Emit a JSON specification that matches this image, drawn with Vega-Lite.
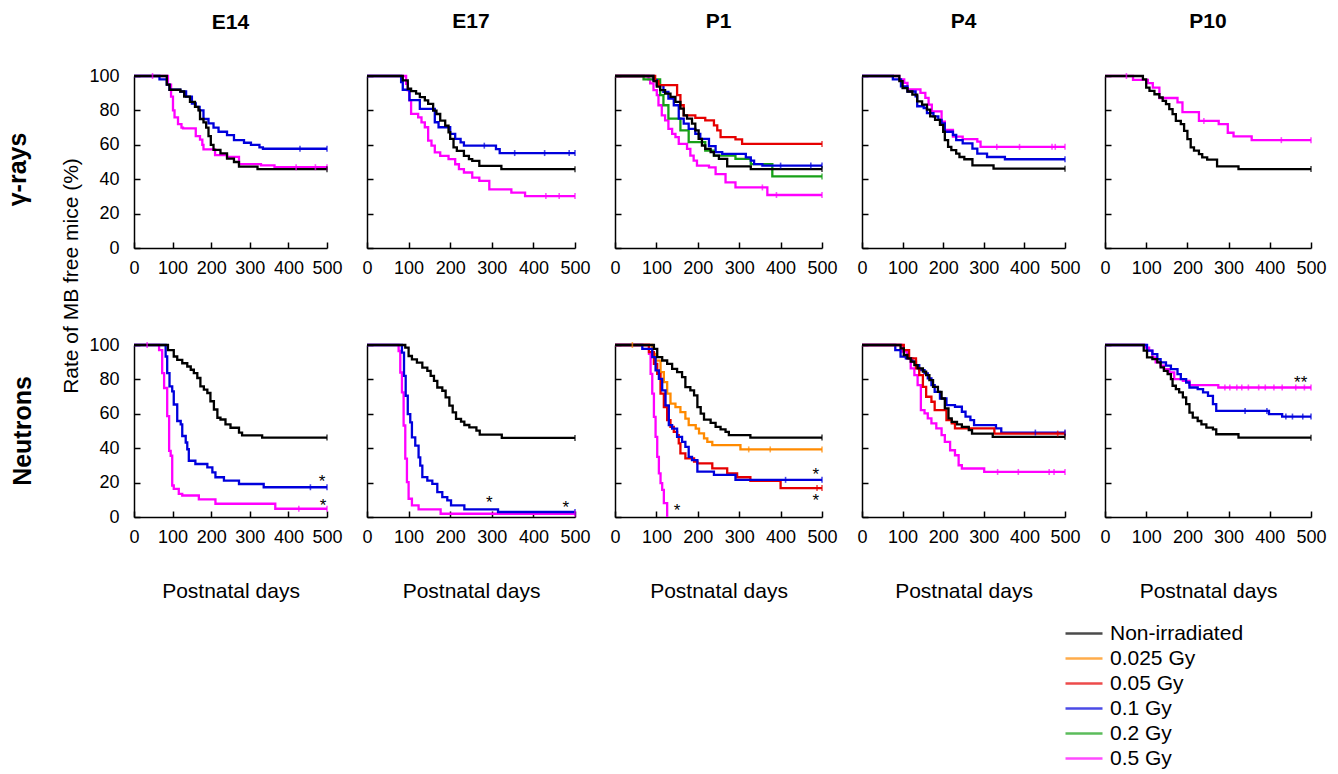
{
"$schema": "https://vega.github.io/schema/vega-lite/v6.json",
"padding": {"left": 5, "top": 11, "right": 5, "bottom": 0},
"datasets": {
"curves": [
{"panel":"gE14","dose":"0.5 Gy","day":0,"rate":100},{"panel":"gE14","dose":"0.5 Gy","day":88,"rate":95},{"panel":"gE14","dose":"0.5 Gy","day":96,"rate":88},{"panel":"gE14","dose":"0.5 Gy","day":101,"rate":80},{"panel":"gE14","dose":"0.5 Gy","day":105,"rate":76},{"panel":"gE14","dose":"0.5 Gy","day":114,"rate":72},{"panel":"gE14","dose":"0.5 Gy","day":123,"rate":70},{"panel":"gE14","dose":"0.5 Gy","day":127,"rate":69.5},{"panel":"gE14","dose":"0.5 Gy","day":160,"rate":65},{"panel":"gE14","dose":"0.5 Gy","day":171,"rate":63},{"panel":"gE14","dose":"0.5 Gy","day":177,"rate":60},{"panel":"gE14","dose":"0.5 Gy","day":180,"rate":57.3},{"panel":"gE14","dose":"0.5 Gy","day":210,"rate":54},{"panel":"gE14","dose":"0.5 Gy","day":241,"rate":53},{"panel":"gE14","dose":"0.5 Gy","day":272,"rate":48.8},{"panel":"gE14","dose":"0.5 Gy","day":329,"rate":48},{"panel":"gE14","dose":"0.5 Gy","day":364,"rate":47},{"panel":"gE14","dose":"0.5 Gy","day":500,"rate":47},
{"panel":"gE14","dose":"0.1 Gy","day":0,"rate":100},{"panel":"gE14","dose":"0.1 Gy","day":66,"rate":98},{"panel":"gE14","dose":"0.1 Gy","day":85,"rate":95},{"panel":"gE14","dose":"0.1 Gy","day":92,"rate":92},{"panel":"gE14","dose":"0.1 Gy","day":120,"rate":91},{"panel":"gE14","dose":"0.1 Gy","day":135,"rate":88},{"panel":"gE14","dose":"0.1 Gy","day":150,"rate":84},{"panel":"gE14","dose":"0.1 Gy","day":160,"rate":82},{"panel":"gE14","dose":"0.1 Gy","day":170,"rate":80},{"panel":"gE14","dose":"0.1 Gy","day":180,"rate":75},{"panel":"gE14","dose":"0.1 Gy","day":193,"rate":72.4},{"panel":"gE14","dose":"0.1 Gy","day":206,"rate":70},{"panel":"gE14","dose":"0.1 Gy","day":219,"rate":67.6},{"panel":"gE14","dose":"0.1 Gy","day":241,"rate":65.6},{"panel":"gE14","dose":"0.1 Gy","day":259,"rate":62.7},{"panel":"gE14","dose":"0.1 Gy","day":285,"rate":61.2},{"panel":"gE14","dose":"0.1 Gy","day":303,"rate":60},{"panel":"gE14","dose":"0.1 Gy","day":325,"rate":58.5},{"panel":"gE14","dose":"0.1 Gy","day":334,"rate":57.7},{"panel":"gE14","dose":"0.1 Gy","day":500,"rate":57.7},
{"panel":"gE14","dose":"Non-irradiated","day":0,"rate":100},{"panel":"gE14","dose":"Non-irradiated","day":85,"rate":95},{"panel":"gE14","dose":"Non-irradiated","day":92,"rate":92},{"panel":"gE14","dose":"Non-irradiated","day":120,"rate":91},{"panel":"gE14","dose":"Non-irradiated","day":130,"rate":88},{"panel":"gE14","dose":"Non-irradiated","day":145,"rate":85},{"panel":"gE14","dose":"Non-irradiated","day":158,"rate":82},{"panel":"gE14","dose":"Non-irradiated","day":167,"rate":80},{"panel":"gE14","dose":"Non-irradiated","day":171,"rate":75},{"panel":"gE14","dose":"Non-irradiated","day":180,"rate":73},{"panel":"gE14","dose":"Non-irradiated","day":187,"rate":70},{"panel":"gE14","dose":"Non-irradiated","day":193,"rate":65},{"panel":"gE14","dose":"Non-irradiated","day":199,"rate":60},{"panel":"gE14","dose":"Non-irradiated","day":206,"rate":57},{"panel":"gE14","dose":"Non-irradiated","day":224,"rate":55},{"panel":"gE14","dose":"Non-irradiated","day":241,"rate":52},{"panel":"gE14","dose":"Non-irradiated","day":259,"rate":50},{"panel":"gE14","dose":"Non-irradiated","day":272,"rate":47.3},{"panel":"gE14","dose":"Non-irradiated","day":320,"rate":45.8},{"panel":"gE14","dose":"Non-irradiated","day":500,"rate":45.8},

{"panel":"gE17","dose":"0.5 Gy","day":0,"rate":100},{"panel":"gE17","dose":"0.5 Gy","day":94,"rate":95.5},{"panel":"gE17","dose":"0.5 Gy","day":98,"rate":91.6},{"panel":"gE17","dose":"0.5 Gy","day":102,"rate":85.8},{"panel":"gE17","dose":"0.5 Gy","day":106,"rate":78},{"panel":"gE17","dose":"0.5 Gy","day":123,"rate":76},{"panel":"gE17","dose":"0.5 Gy","day":131,"rate":73},{"panel":"gE17","dose":"0.5 Gy","day":139,"rate":70.2},{"panel":"gE17","dose":"0.5 Gy","day":147,"rate":62.4},{"panel":"gE17","dose":"0.5 Gy","day":155,"rate":59.5},{"panel":"gE17","dose":"0.5 Gy","day":163,"rate":55.6},{"panel":"gE17","dose":"0.5 Gy","day":176,"rate":53.6},{"panel":"gE17","dose":"0.5 Gy","day":196,"rate":51.7},{"panel":"gE17","dose":"0.5 Gy","day":212,"rate":48.7},{"panel":"gE17","dose":"0.5 Gy","day":221,"rate":45.8},{"panel":"gE17","dose":"0.5 Gy","day":233,"rate":43.9},{"panel":"gE17","dose":"0.5 Gy","day":253,"rate":40.9},{"panel":"gE17","dose":"0.5 Gy","day":270,"rate":39},{"panel":"gE17","dose":"0.5 Gy","day":294,"rate":34.1},{"panel":"gE17","dose":"0.5 Gy","day":347,"rate":32.2},{"panel":"gE17","dose":"0.5 Gy","day":380,"rate":30.2},{"panel":"gE17","dose":"0.5 Gy","day":500,"rate":30.2},
{"panel":"gE17","dose":"0.1 Gy","day":0,"rate":100},{"panel":"gE17","dose":"0.1 Gy","day":82,"rate":96.5},{"panel":"gE17","dose":"0.1 Gy","day":86,"rate":92},{"panel":"gE17","dose":"0.1 Gy","day":102,"rate":86},{"panel":"gE17","dose":"0.1 Gy","day":127,"rate":80.9},{"panel":"gE17","dose":"0.1 Gy","day":163,"rate":73.1},{"panel":"gE17","dose":"0.1 Gy","day":172,"rate":70.2},{"panel":"gE17","dose":"0.1 Gy","day":200,"rate":66.3},{"panel":"gE17","dose":"0.1 Gy","day":212,"rate":63.4},{"panel":"gE17","dose":"0.1 Gy","day":225,"rate":61.4},{"panel":"gE17","dose":"0.1 Gy","day":233,"rate":59.5},{"panel":"gE17","dose":"0.1 Gy","day":310,"rate":57.5},{"panel":"gE17","dose":"0.1 Gy","day":319,"rate":55.2},{"panel":"gE17","dose":"0.1 Gy","day":500,"rate":55.2},
{"panel":"gE17","dose":"Non-irradiated","day":0,"rate":100},{"panel":"gE17","dose":"Non-irradiated","day":86,"rate":97.5},{"panel":"gE17","dose":"Non-irradiated","day":98,"rate":92.6},{"panel":"gE17","dose":"Non-irradiated","day":106,"rate":91.2},{"panel":"gE17","dose":"Non-irradiated","day":118,"rate":89.7},{"panel":"gE17","dose":"Non-irradiated","day":127,"rate":87.7},{"panel":"gE17","dose":"Non-irradiated","day":139,"rate":85.8},{"panel":"gE17","dose":"Non-irradiated","day":147,"rate":83.8},{"panel":"gE17","dose":"Non-irradiated","day":159,"rate":79.9},{"panel":"gE17","dose":"Non-irradiated","day":167,"rate":77.9},{"panel":"gE17","dose":"Non-irradiated","day":176,"rate":74},{"panel":"gE17","dose":"Non-irradiated","day":188,"rate":71.2},{"panel":"gE17","dose":"Non-irradiated","day":196,"rate":67.3},{"panel":"gE17","dose":"Non-irradiated","day":200,"rate":63.4},{"panel":"gE17","dose":"Non-irradiated","day":208,"rate":58.5},{"panel":"gE17","dose":"Non-irradiated","day":216,"rate":56.5},{"panel":"gE17","dose":"Non-irradiated","day":233,"rate":53.6},{"panel":"gE17","dose":"Non-irradiated","day":245,"rate":51.7},{"panel":"gE17","dose":"Non-irradiated","day":253,"rate":50.7},{"panel":"gE17","dose":"Non-irradiated","day":270,"rate":47.8},{"panel":"gE17","dose":"Non-irradiated","day":323,"rate":45.8},{"panel":"gE17","dose":"Non-irradiated","day":500,"rate":45.8},

{"panel":"gP1","dose":"0.5 Gy","day":0,"rate":100},{"panel":"gP1","dose":"0.5 Gy","day":81,"rate":98},{"panel":"gP1","dose":"0.5 Gy","day":85,"rate":95.7},{"panel":"gP1","dose":"0.5 Gy","day":93,"rate":91.8},{"panel":"gP1","dose":"0.5 Gy","day":101,"rate":88.9},{"panel":"gP1","dose":"0.5 Gy","day":105,"rate":83},{"panel":"gP1","dose":"0.5 Gy","day":113,"rate":77.1},{"panel":"gP1","dose":"0.5 Gy","day":121,"rate":74.2},{"panel":"gP1","dose":"0.5 Gy","day":129,"rate":69.3},{"panel":"gP1","dose":"0.5 Gy","day":138,"rate":66.4},{"panel":"gP1","dose":"0.5 Gy","day":146,"rate":64.5},{"panel":"gP1","dose":"0.5 Gy","day":154,"rate":60.5},{"panel":"gP1","dose":"0.5 Gy","day":174,"rate":57.6},{"panel":"gP1","dose":"0.5 Gy","day":182,"rate":53.7},{"panel":"gP1","dose":"0.5 Gy","day":190,"rate":50.8},{"panel":"gP1","dose":"0.5 Gy","day":198,"rate":47.9},{"panel":"gP1","dose":"0.5 Gy","day":227,"rate":46.9},{"panel":"gP1","dose":"0.5 Gy","day":243,"rate":43},{"panel":"gP1","dose":"0.5 Gy","day":267,"rate":38.1},{"panel":"gP1","dose":"0.5 Gy","day":291,"rate":35.2},{"panel":"gP1","dose":"0.5 Gy","day":368,"rate":30.8},{"panel":"gP1","dose":"0.5 Gy","day":500,"rate":30.8},
{"panel":"gP1","dose":"0.2 Gy","day":0,"rate":100},{"panel":"gP1","dose":"0.2 Gy","day":69,"rate":98},{"panel":"gP1","dose":"0.2 Gy","day":109,"rate":88.9},{"panel":"gP1","dose":"0.2 Gy","day":117,"rate":83},{"panel":"gP1","dose":"0.2 Gy","day":129,"rate":75.2},{"panel":"gP1","dose":"0.2 Gy","day":158,"rate":68.4},{"panel":"gP1","dose":"0.2 Gy","day":178,"rate":61.5},{"panel":"gP1","dose":"0.2 Gy","day":218,"rate":56.6},{"panel":"gP1","dose":"0.2 Gy","day":239,"rate":53.7},{"panel":"gP1","dose":"0.2 Gy","day":291,"rate":51.8},{"panel":"gP1","dose":"0.2 Gy","day":328,"rate":48.8},{"panel":"gP1","dose":"0.2 Gy","day":380,"rate":41.6},{"panel":"gP1","dose":"0.2 Gy","day":500,"rate":41.6},
{"panel":"gP1","dose":"0.1 Gy","day":0,"rate":100},{"panel":"gP1","dose":"0.1 Gy","day":93,"rate":97.6},{"panel":"gP1","dose":"0.1 Gy","day":101,"rate":94.7},{"panel":"gP1","dose":"0.1 Gy","day":117,"rate":90.8},{"panel":"gP1","dose":"0.1 Gy","day":129,"rate":86.9},{"panel":"gP1","dose":"0.1 Gy","day":142,"rate":83},{"panel":"gP1","dose":"0.1 Gy","day":154,"rate":75.2},{"panel":"gP1","dose":"0.1 Gy","day":166,"rate":72.3},{"panel":"gP1","dose":"0.1 Gy","day":178,"rate":69.3},{"panel":"gP1","dose":"0.1 Gy","day":194,"rate":66.4},{"panel":"gP1","dose":"0.1 Gy","day":206,"rate":63.5},{"panel":"gP1","dose":"0.1 Gy","day":227,"rate":59.2},{"panel":"gP1","dose":"0.1 Gy","day":243,"rate":55.7},{"panel":"gP1","dose":"0.1 Gy","day":259,"rate":54.7},{"panel":"gP1","dose":"0.1 Gy","day":316,"rate":52.7},{"panel":"gP1","dose":"0.1 Gy","day":328,"rate":50.8},{"panel":"gP1","dose":"0.1 Gy","day":336,"rate":48.8},{"panel":"gP1","dose":"0.1 Gy","day":356,"rate":47.9},{"panel":"gP1","dose":"0.1 Gy","day":500,"rate":47.9},
{"panel":"gP1","dose":"0.05 Gy","day":0,"rate":100},{"panel":"gP1","dose":"0.05 Gy","day":97,"rate":97},{"panel":"gP1","dose":"0.05 Gy","day":105,"rate":94.7},{"panel":"gP1","dose":"0.05 Gy","day":150,"rate":88.9},{"panel":"gP1","dose":"0.05 Gy","day":158,"rate":83},{"panel":"gP1","dose":"0.05 Gy","day":166,"rate":77.1},{"panel":"gP1","dose":"0.05 Gy","day":194,"rate":75.6},{"panel":"gP1","dose":"0.05 Gy","day":218,"rate":74.2},{"panel":"gP1","dose":"0.05 Gy","day":239,"rate":71.3},{"panel":"gP1","dose":"0.05 Gy","day":247,"rate":68.4},{"panel":"gP1","dose":"0.05 Gy","day":255,"rate":64.5},{"panel":"gP1","dose":"0.05 Gy","day":291,"rate":63.1},{"panel":"gP1","dose":"0.05 Gy","day":307,"rate":60.5},{"panel":"gP1","dose":"0.05 Gy","day":500,"rate":60.5},
{"panel":"gP1","dose":"Non-irradiated","day":0,"rate":100},{"panel":"gP1","dose":"Non-irradiated","day":93,"rate":97},{"panel":"gP1","dose":"Non-irradiated","day":101,"rate":93.8},{"panel":"gP1","dose":"Non-irradiated","day":109,"rate":91.8},{"panel":"gP1","dose":"Non-irradiated","day":121,"rate":89.8},{"panel":"gP1","dose":"Non-irradiated","day":134,"rate":87.9},{"panel":"gP1","dose":"Non-irradiated","day":146,"rate":85},{"panel":"gP1","dose":"Non-irradiated","day":158,"rate":81},{"panel":"gP1","dose":"Non-irradiated","day":166,"rate":77.1},{"panel":"gP1","dose":"Non-irradiated","day":174,"rate":75.2},{"panel":"gP1","dose":"Non-irradiated","day":186,"rate":72.3},{"panel":"gP1","dose":"Non-irradiated","day":194,"rate":68.4},{"panel":"gP1","dose":"Non-irradiated","day":202,"rate":63.5},{"panel":"gP1","dose":"Non-irradiated","day":210,"rate":59.6},{"panel":"gP1","dose":"Non-irradiated","day":218,"rate":57.6},{"panel":"gP1","dose":"Non-irradiated","day":231,"rate":55.7},{"panel":"gP1","dose":"Non-irradiated","day":239,"rate":53.7},{"panel":"gP1","dose":"Non-irradiated","day":251,"rate":51.8},{"panel":"gP1","dose":"Non-irradiated","day":271,"rate":47.5},{"panel":"gP1","dose":"Non-irradiated","day":328,"rate":45.9},{"panel":"gP1","dose":"Non-irradiated","day":500,"rate":45.9},

{"panel":"gP4","dose":"0.5 Gy","day":0,"rate":100},{"panel":"gP4","dose":"0.5 Gy","day":92,"rate":98},{"panel":"gP4","dose":"0.5 Gy","day":104,"rate":96},{"panel":"gP4","dose":"0.5 Gy","day":112,"rate":92.2},{"panel":"gP4","dose":"0.5 Gy","day":144,"rate":90.2},{"panel":"gP4","dose":"0.5 Gy","day":156,"rate":87.3},{"panel":"gP4","dose":"0.5 Gy","day":164,"rate":83.3},{"panel":"gP4","dose":"0.5 Gy","day":172,"rate":79.4},{"panel":"gP4","dose":"0.5 Gy","day":196,"rate":73.5},{"panel":"gP4","dose":"0.5 Gy","day":204,"rate":68.6},{"panel":"gP4","dose":"0.5 Gy","day":224,"rate":64.7},{"panel":"gP4","dose":"0.5 Gy","day":248,"rate":63.3},{"panel":"gP4","dose":"0.5 Gy","day":284,"rate":61.8},{"panel":"gP4","dose":"0.5 Gy","day":292,"rate":58.8},{"panel":"gP4","dose":"0.5 Gy","day":500,"rate":58.8},
{"panel":"gP4","dose":"0.1 Gy","day":0,"rate":100},{"panel":"gP4","dose":"0.1 Gy","day":76,"rate":98},{"panel":"gP4","dose":"0.1 Gy","day":96,"rate":94},{"panel":"gP4","dose":"0.1 Gy","day":112,"rate":91},{"panel":"gP4","dose":"0.1 Gy","day":132,"rate":88.2},{"panel":"gP4","dose":"0.1 Gy","day":136,"rate":82.4},{"panel":"gP4","dose":"0.1 Gy","day":152,"rate":81.4},{"panel":"gP4","dose":"0.1 Gy","day":160,"rate":78.4},{"panel":"gP4","dose":"0.1 Gy","day":176,"rate":76.5},{"panel":"gP4","dose":"0.1 Gy","day":188,"rate":74.5},{"panel":"gP4","dose":"0.1 Gy","day":196,"rate":72.5},{"panel":"gP4","dose":"0.1 Gy","day":204,"rate":67.6},{"panel":"gP4","dose":"0.1 Gy","day":224,"rate":65.7},{"panel":"gP4","dose":"0.1 Gy","day":232,"rate":62.7},{"panel":"gP4","dose":"0.1 Gy","day":248,"rate":60.8},{"panel":"gP4","dose":"0.1 Gy","day":272,"rate":57.8},{"panel":"gP4","dose":"0.1 Gy","day":284,"rate":54.9},{"panel":"gP4","dose":"0.1 Gy","day":308,"rate":52.9},{"panel":"gP4","dose":"0.1 Gy","day":352,"rate":51.6},{"panel":"gP4","dose":"0.1 Gy","day":500,"rate":51.6},
{"panel":"gP4","dose":"Non-irradiated","day":0,"rate":100},{"panel":"gP4","dose":"Non-irradiated","day":92,"rate":97},{"panel":"gP4","dose":"Non-irradiated","day":100,"rate":93},{"panel":"gP4","dose":"Non-irradiated","day":112,"rate":91},{"panel":"gP4","dose":"Non-irradiated","day":124,"rate":89.2},{"panel":"gP4","dose":"Non-irradiated","day":136,"rate":85.3},{"panel":"gP4","dose":"Non-irradiated","day":148,"rate":83.3},{"panel":"gP4","dose":"Non-irradiated","day":160,"rate":80.4},{"panel":"gP4","dose":"Non-irradiated","day":168,"rate":76.5},{"panel":"gP4","dose":"Non-irradiated","day":180,"rate":74.5},{"panel":"gP4","dose":"Non-irradiated","day":192,"rate":71.6},{"panel":"gP4","dose":"Non-irradiated","day":200,"rate":67.6},{"panel":"gP4","dose":"Non-irradiated","day":204,"rate":62.7},{"panel":"gP4","dose":"Non-irradiated","day":212,"rate":58.8},{"panel":"gP4","dose":"Non-irradiated","day":220,"rate":56.9},{"panel":"gP4","dose":"Non-irradiated","day":232,"rate":54.9},{"panel":"gP4","dose":"Non-irradiated","day":240,"rate":52.9},{"panel":"gP4","dose":"Non-irradiated","day":252,"rate":51.6},{"panel":"gP4","dose":"Non-irradiated","day":272,"rate":48},{"panel":"gP4","dose":"Non-irradiated","day":324,"rate":46.1},{"panel":"gP4","dose":"Non-irradiated","day":500,"rate":46.1},

{"panel":"gP10","dose":"0.5 Gy","day":0,"rate":100},{"panel":"gP10","dose":"0.5 Gy","day":68,"rate":97.7},{"panel":"gP10","dose":"0.5 Gy","day":104,"rate":95.8},{"panel":"gP10","dose":"0.5 Gy","day":116,"rate":93.2},{"panel":"gP10","dose":"0.5 Gy","day":132,"rate":87.2},{"panel":"gP10","dose":"0.5 Gy","day":176,"rate":84.7},{"panel":"gP10","dose":"0.5 Gy","day":188,"rate":79},{"panel":"gP10","dose":"0.5 Gy","day":228,"rate":73.9},{"panel":"gP10","dose":"0.5 Gy","day":276,"rate":72},{"panel":"gP10","dose":"0.5 Gy","day":298,"rate":67},{"panel":"gP10","dose":"0.5 Gy","day":312,"rate":64.9},{"panel":"gP10","dose":"0.5 Gy","day":356,"rate":62.7},{"panel":"gP10","dose":"0.5 Gy","day":500,"rate":62.7},
{"panel":"gP10","dose":"Non-irradiated","day":0,"rate":100},{"panel":"gP10","dose":"Non-irradiated","day":92,"rate":98},{"panel":"gP10","dose":"Non-irradiated","day":100,"rate":93.2},{"panel":"gP10","dose":"Non-irradiated","day":108,"rate":91.3},{"panel":"gP10","dose":"Non-irradiated","day":120,"rate":89.4},{"panel":"gP10","dose":"Non-irradiated","day":132,"rate":87.5},{"panel":"gP10","dose":"Non-irradiated","day":140,"rate":85.5},{"panel":"gP10","dose":"Non-irradiated","day":148,"rate":83.6},{"panel":"gP10","dose":"Non-irradiated","day":156,"rate":80.7},{"panel":"gP10","dose":"Non-irradiated","day":164,"rate":77.8},{"panel":"gP10","dose":"Non-irradiated","day":172,"rate":73.9},{"panel":"gP10","dose":"Non-irradiated","day":184,"rate":72},{"panel":"gP10","dose":"Non-irradiated","day":192,"rate":68.1},{"panel":"gP10","dose":"Non-irradiated","day":200,"rate":63.3},{"panel":"gP10","dose":"Non-irradiated","day":208,"rate":58.5},{"panel":"gP10","dose":"Non-irradiated","day":216,"rate":56.6},{"panel":"gP10","dose":"Non-irradiated","day":228,"rate":54.6},{"panel":"gP10","dose":"Non-irradiated","day":236,"rate":52.7},{"panel":"gP10","dose":"Non-irradiated","day":248,"rate":51.4},{"panel":"gP10","dose":"Non-irradiated","day":272,"rate":47.5},{"panel":"gP10","dose":"Non-irradiated","day":324,"rate":45.9},{"panel":"gP10","dose":"Non-irradiated","day":500,"rate":45.9},

{"panel":"nE14","dose":"0.5 Gy","day":0,"rate":100},{"panel":"nE14","dose":"0.5 Gy","day":65,"rate":97},{"panel":"nE14","dose":"0.5 Gy","day":73,"rate":83.7},{"panel":"nE14","dose":"0.5 Gy","day":78,"rate":75},{"panel":"nE14","dose":"0.5 Gy","day":86,"rate":58.7},{"panel":"nE14","dose":"0.5 Gy","day":91,"rate":38.5},{"panel":"nE14","dose":"0.5 Gy","day":95,"rate":35.6},{"panel":"nE14","dose":"0.5 Gy","day":99,"rate":18.3},{"panel":"nE14","dose":"0.5 Gy","day":103,"rate":16.3},{"panel":"nE14","dose":"0.5 Gy","day":116,"rate":13.5},{"panel":"nE14","dose":"0.5 Gy","day":125,"rate":12.5},{"panel":"nE14","dose":"0.5 Gy","day":168,"rate":10.2},{"panel":"nE14","dose":"0.5 Gy","day":211,"rate":7.7},{"panel":"nE14","dose":"0.5 Gy","day":366,"rate":4.8},{"panel":"nE14","dose":"0.5 Gy","day":500,"rate":4.8},
{"panel":"nE14","dose":"0.1 Gy","day":0,"rate":100},{"panel":"nE14","dose":"0.1 Gy","day":82,"rate":93.3},{"panel":"nE14","dose":"0.1 Gy","day":86,"rate":83.7},{"panel":"nE14","dose":"0.1 Gy","day":92,"rate":76},{"panel":"nE14","dose":"0.1 Gy","day":99,"rate":73},{"panel":"nE14","dose":"0.1 Gy","day":103,"rate":65.4},{"panel":"nE14","dose":"0.1 Gy","day":112,"rate":55.8},{"panel":"nE14","dose":"0.1 Gy","day":121,"rate":53.8},{"panel":"nE14","dose":"0.1 Gy","day":125,"rate":47.1},{"panel":"nE14","dose":"0.1 Gy","day":134,"rate":43.3},{"panel":"nE14","dose":"0.1 Gy","day":138,"rate":39.4},{"panel":"nE14","dose":"0.1 Gy","day":142,"rate":32.7},{"panel":"nE14","dose":"0.1 Gy","day":159,"rate":30.8},{"panel":"nE14","dose":"0.1 Gy","day":190,"rate":28.8},{"panel":"nE14","dose":"0.1 Gy","day":203,"rate":26},{"panel":"nE14","dose":"0.1 Gy","day":211,"rate":23.1},{"panel":"nE14","dose":"0.1 Gy","day":233,"rate":21.2},{"panel":"nE14","dose":"0.1 Gy","day":272,"rate":19.2},{"panel":"nE14","dose":"0.1 Gy","day":336,"rate":17.3},{"panel":"nE14","dose":"0.1 Gy","day":500,"rate":17.3},
{"panel":"nE14","dose":"Non-irradiated","day":0,"rate":100},{"panel":"nE14","dose":"Non-irradiated","day":88,"rate":97},{"panel":"nE14","dose":"Non-irradiated","day":103,"rate":93.3},{"panel":"nE14","dose":"Non-irradiated","day":112,"rate":91.3},{"panel":"nE14","dose":"Non-irradiated","day":125,"rate":89.4},{"panel":"nE14","dose":"Non-irradiated","day":138,"rate":87.5},{"panel":"nE14","dose":"Non-irradiated","day":147,"rate":85.6},{"panel":"nE14","dose":"Non-irradiated","day":155,"rate":83.7},{"panel":"nE14","dose":"Non-irradiated","day":164,"rate":80.8},{"panel":"nE14","dose":"Non-irradiated","day":172,"rate":76},{"panel":"nE14","dose":"Non-irradiated","day":181,"rate":74},{"panel":"nE14","dose":"Non-irradiated","day":190,"rate":72.1},{"panel":"nE14","dose":"Non-irradiated","day":198,"rate":67.3},{"panel":"nE14","dose":"Non-irradiated","day":207,"rate":62.5},{"panel":"nE14","dose":"Non-irradiated","day":216,"rate":57.7},{"panel":"nE14","dose":"Non-irradiated","day":224,"rate":56.7},{"panel":"nE14","dose":"Non-irradiated","day":237,"rate":53.8},{"panel":"nE14","dose":"Non-irradiated","day":250,"rate":51.9},{"panel":"nE14","dose":"Non-irradiated","day":272,"rate":49},{"panel":"nE14","dose":"Non-irradiated","day":280,"rate":47.5},{"panel":"nE14","dose":"Non-irradiated","day":332,"rate":46.2},{"panel":"nE14","dose":"Non-irradiated","day":500,"rate":46.2},

{"panel":"nE17","dose":"0.5 Gy","day":0,"rate":100},{"panel":"nE17","dose":"0.5 Gy","day":76,"rate":96.5},{"panel":"nE17","dose":"0.5 Gy","day":80,"rate":84},{"panel":"nE17","dose":"0.5 Gy","day":84,"rate":72.5},{"panel":"nE17","dose":"0.5 Gy","day":88,"rate":53.2},{"panel":"nE17","dose":"0.5 Gy","day":92,"rate":33.9},{"panel":"nE17","dose":"0.5 Gy","day":96,"rate":20.3},{"panel":"nE17","dose":"0.5 Gy","day":100,"rate":10.6},{"panel":"nE17","dose":"0.5 Gy","day":108,"rate":6.8},{"panel":"nE17","dose":"0.5 Gy","day":124,"rate":4.4},{"panel":"nE17","dose":"0.5 Gy","day":177,"rate":1.9},{"panel":"nE17","dose":"0.5 Gy","day":500,"rate":1.9},
{"panel":"nE17","dose":"0.1 Gy","day":0,"rate":100},{"panel":"nE17","dose":"0.1 Gy","day":84,"rate":95.6},{"panel":"nE17","dose":"0.1 Gy","day":89,"rate":82},{"panel":"nE17","dose":"0.1 Gy","day":93,"rate":70.5},{"panel":"nE17","dose":"0.1 Gy","day":98,"rate":59.8},{"panel":"nE17","dose":"0.1 Gy","day":104,"rate":55},{"panel":"nE17","dose":"0.1 Gy","day":108,"rate":46.3},{"panel":"nE17","dose":"0.1 Gy","day":116,"rate":41.5},{"panel":"nE17","dose":"0.1 Gy","day":124,"rate":34.7},{"panel":"nE17","dose":"0.1 Gy","day":128,"rate":29.9},{"panel":"nE17","dose":"0.1 Gy","day":133,"rate":23.2},{"panel":"nE17","dose":"0.1 Gy","day":145,"rate":21.2},{"panel":"nE17","dose":"0.1 Gy","day":157,"rate":19.3},{"panel":"nE17","dose":"0.1 Gy","day":169,"rate":14.5},{"panel":"nE17","dose":"0.1 Gy","day":181,"rate":11.6},{"panel":"nE17","dose":"0.1 Gy","day":193,"rate":9.7},{"panel":"nE17","dose":"0.1 Gy","day":202,"rate":6.8},{"panel":"nE17","dose":"0.1 Gy","day":234,"rate":4.4},{"panel":"nE17","dose":"0.1 Gy","day":315,"rate":2.9},{"panel":"nE17","dose":"0.1 Gy","day":500,"rate":2.9},
{"panel":"nE17","dose":"Non-irradiated","day":0,"rate":100},{"panel":"nE17","dose":"Non-irradiated","day":92,"rate":98.5},{"panel":"nE17","dose":"Non-irradiated","day":100,"rate":93.6},{"panel":"nE17","dose":"Non-irradiated","day":108,"rate":91.7},{"panel":"nE17","dose":"Non-irradiated","day":120,"rate":89.8},{"panel":"nE17","dose":"Non-irradiated","day":133,"rate":86.9},{"panel":"nE17","dose":"Non-irradiated","day":145,"rate":84.9},{"panel":"nE17","dose":"Non-irradiated","day":153,"rate":82},{"panel":"nE17","dose":"Non-irradiated","day":161,"rate":79.2},{"panel":"nE17","dose":"Non-irradiated","day":169,"rate":75.3},{"panel":"nE17","dose":"Non-irradiated","day":181,"rate":73.4},{"panel":"nE17","dose":"Non-irradiated","day":189,"rate":69.5},{"panel":"nE17","dose":"Non-irradiated","day":198,"rate":64.7},{"panel":"nE17","dose":"Non-irradiated","day":206,"rate":60.8},{"panel":"nE17","dose":"Non-irradiated","day":214,"rate":57},{"panel":"nE17","dose":"Non-irradiated","day":226,"rate":55.4},{"panel":"nE17","dose":"Non-irradiated","day":234,"rate":53.5},{"panel":"nE17","dose":"Non-irradiated","day":246,"rate":52.1},{"panel":"nE17","dose":"Non-irradiated","day":263,"rate":50.2},{"panel":"nE17","dose":"Non-irradiated","day":271,"rate":47.9},{"panel":"nE17","dose":"Non-irradiated","day":324,"rate":46},{"panel":"nE17","dose":"Non-irradiated","day":500,"rate":46},

{"panel":"nP1","dose":"0.5 Gy","day":0,"rate":100},{"panel":"nP1","dose":"0.5 Gy","day":82,"rate":94.8},{"panel":"nP1","dose":"0.5 Gy","day":86,"rate":83.2},{"panel":"nP1","dose":"0.5 Gy","day":90,"rate":71.7},{"panel":"nP1","dose":"0.5 Gy","day":94,"rate":58.2},{"panel":"nP1","dose":"0.5 Gy","day":98,"rate":46.6},{"panel":"nP1","dose":"0.5 Gy","day":102,"rate":35},{"panel":"nP1","dose":"0.5 Gy","day":106,"rate":25.4},{"panel":"nP1","dose":"0.5 Gy","day":110,"rate":19.7},{"panel":"nP1","dose":"0.5 Gy","day":114,"rate":15.8},{"panel":"nP1","dose":"0.5 Gy","day":118,"rate":8.1},{"panel":"nP1","dose":"0.5 Gy","day":126,"rate":0},
{"panel":"nP1","dose":"0.025 Gy","day":0,"rate":100},{"panel":"nP1","dose":"0.025 Gy","day":90,"rate":94.8},{"panel":"nP1","dose":"0.025 Gy","day":98,"rate":90.9},{"panel":"nP1","dose":"0.025 Gy","day":110,"rate":84.2},{"panel":"nP1","dose":"0.025 Gy","day":118,"rate":78.4},{"panel":"nP1","dose":"0.025 Gy","day":126,"rate":71.7},{"panel":"nP1","dose":"0.025 Gy","day":134,"rate":65.9},{"panel":"nP1","dose":"0.025 Gy","day":146,"rate":63.9},{"panel":"nP1","dose":"0.025 Gy","day":158,"rate":61},{"panel":"nP1","dose":"0.025 Gy","day":170,"rate":57.2},{"panel":"nP1","dose":"0.025 Gy","day":178,"rate":53.4},{"panel":"nP1","dose":"0.025 Gy","day":195,"rate":51.4},{"panel":"nP1","dose":"0.025 Gy","day":203,"rate":48.6},{"panel":"nP1","dose":"0.025 Gy","day":215,"rate":45.7},{"panel":"nP1","dose":"0.025 Gy","day":223,"rate":43.7},{"panel":"nP1","dose":"0.025 Gy","day":235,"rate":41.8},{"panel":"nP1","dose":"0.025 Gy","day":303,"rate":39.3},{"panel":"nP1","dose":"0.025 Gy","day":500,"rate":39.3},
{"panel":"nP1","dose":"0.05 Gy","day":0,"rate":100},{"panel":"nP1","dose":"0.05 Gy","day":82,"rate":95.8},{"panel":"nP1","dose":"0.05 Gy","day":94,"rate":89},{"panel":"nP1","dose":"0.05 Gy","day":102,"rate":83.2},{"panel":"nP1","dose":"0.05 Gy","day":110,"rate":71.7},{"panel":"nP1","dose":"0.05 Gy","day":118,"rate":63.9},{"panel":"nP1","dose":"0.05 Gy","day":126,"rate":56.3},{"panel":"nP1","dose":"0.05 Gy","day":134,"rate":52.4},{"panel":"nP1","dose":"0.05 Gy","day":142,"rate":49.5},{"panel":"nP1","dose":"0.05 Gy","day":150,"rate":47.6},{"panel":"nP1","dose":"0.05 Gy","day":154,"rate":42.8},{"panel":"nP1","dose":"0.05 Gy","day":158,"rate":37},{"panel":"nP1","dose":"0.05 Gy","day":170,"rate":34.1},{"panel":"nP1","dose":"0.05 Gy","day":191,"rate":32.2},{"panel":"nP1","dose":"0.05 Gy","day":199,"rate":31.2},{"panel":"nP1","dose":"0.05 Gy","day":235,"rate":28.3},{"panel":"nP1","dose":"0.05 Gy","day":271,"rate":25.4},{"panel":"nP1","dose":"0.05 Gy","day":295,"rate":23.1},{"panel":"nP1","dose":"0.05 Gy","day":327,"rate":21},{"panel":"nP1","dose":"0.05 Gy","day":400,"rate":16.8},{"panel":"nP1","dose":"0.05 Gy","day":500,"rate":16.8},
{"panel":"nP1","dose":"0.1 Gy","day":0,"rate":100},{"panel":"nP1","dose":"0.1 Gy","day":66,"rate":97.7},{"panel":"nP1","dose":"0.1 Gy","day":90,"rate":92.9},{"panel":"nP1","dose":"0.1 Gy","day":98,"rate":85.2},{"panel":"nP1","dose":"0.1 Gy","day":106,"rate":80.3},{"panel":"nP1","dose":"0.1 Gy","day":114,"rate":73.6},{"panel":"nP1","dose":"0.1 Gy","day":122,"rate":64.9},{"panel":"nP1","dose":"0.1 Gy","day":130,"rate":53.4},{"panel":"nP1","dose":"0.1 Gy","day":138,"rate":51.4},{"panel":"nP1","dose":"0.1 Gy","day":150,"rate":46.6},{"panel":"nP1","dose":"0.1 Gy","day":162,"rate":43.7},{"panel":"nP1","dose":"0.1 Gy","day":170,"rate":40.8},{"panel":"nP1","dose":"0.1 Gy","day":178,"rate":35},{"panel":"nP1","dose":"0.1 Gy","day":186,"rate":33.1},{"panel":"nP1","dose":"0.1 Gy","day":199,"rate":26.4},{"panel":"nP1","dose":"0.1 Gy","day":239,"rate":24.5},{"panel":"nP1","dose":"0.1 Gy","day":291,"rate":21.6},{"panel":"nP1","dose":"0.1 Gy","day":500,"rate":21.6},
{"panel":"nP1","dose":"Non-irradiated","day":0,"rate":100},{"panel":"nP1","dose":"Non-irradiated","day":94,"rate":97.7},{"panel":"nP1","dose":"Non-irradiated","day":102,"rate":92.9},{"panel":"nP1","dose":"Non-irradiated","day":114,"rate":91},{"panel":"nP1","dose":"Non-irradiated","day":126,"rate":89},{"panel":"nP1","dose":"Non-irradiated","day":138,"rate":86.1},{"panel":"nP1","dose":"Non-irradiated","day":150,"rate":84.2},{"panel":"nP1","dose":"Non-irradiated","day":162,"rate":81.3},{"panel":"nP1","dose":"Non-irradiated","day":170,"rate":75.5},{"panel":"nP1","dose":"Non-irradiated","day":182,"rate":73.6},{"panel":"nP1","dose":"Non-irradiated","day":191,"rate":70.7},{"panel":"nP1","dose":"Non-irradiated","day":199,"rate":63.9},{"panel":"nP1","dose":"Non-irradiated","day":207,"rate":60.1},{"panel":"nP1","dose":"Non-irradiated","day":215,"rate":56.6},{"panel":"nP1","dose":"Non-irradiated","day":231,"rate":54.7},{"panel":"nP1","dose":"Non-irradiated","day":243,"rate":52.4},{"panel":"nP1","dose":"Non-irradiated","day":255,"rate":50.9},{"panel":"nP1","dose":"Non-irradiated","day":267,"rate":49.5},{"panel":"nP1","dose":"Non-irradiated","day":275,"rate":47.6},{"panel":"nP1","dose":"Non-irradiated","day":327,"rate":46.2},{"panel":"nP1","dose":"Non-irradiated","day":500,"rate":46.2},

{"panel":"nP4","dose":"0.5 Gy","day":0,"rate":100},{"panel":"nP4","dose":"0.5 Gy","day":99,"rate":96.1},{"panel":"nP4","dose":"0.5 Gy","day":112,"rate":92.2},{"panel":"nP4","dose":"0.5 Gy","day":120,"rate":86.4},{"panel":"nP4","dose":"0.5 Gy","day":129,"rate":82.5},{"panel":"nP4","dose":"0.5 Gy","day":137,"rate":76.7},{"panel":"nP4","dose":"0.5 Gy","day":145,"rate":62.1},{"panel":"nP4","dose":"0.5 Gy","day":154,"rate":60.2},{"panel":"nP4","dose":"0.5 Gy","day":162,"rate":57.3},{"panel":"nP4","dose":"0.5 Gy","day":171,"rate":54.4},{"panel":"nP4","dose":"0.5 Gy","day":183,"rate":51.5},{"panel":"nP4","dose":"0.5 Gy","day":196,"rate":47.6},{"panel":"nP4","dose":"0.5 Gy","day":204,"rate":43.7},{"panel":"nP4","dose":"0.5 Gy","day":217,"rate":38.8},{"panel":"nP4","dose":"0.5 Gy","day":229,"rate":35.9},{"panel":"nP4","dose":"0.5 Gy","day":238,"rate":30.1},{"panel":"nP4","dose":"0.5 Gy","day":246,"rate":28.2},{"panel":"nP4","dose":"0.5 Gy","day":301,"rate":26.2},{"panel":"nP4","dose":"0.5 Gy","day":500,"rate":26.2},
{"panel":"nP4","dose":"0.1 Gy","day":0,"rate":100},{"panel":"nP4","dose":"0.1 Gy","day":82,"rate":97},{"panel":"nP4","dose":"0.1 Gy","day":95,"rate":93.2},{"panel":"nP4","dose":"0.1 Gy","day":108,"rate":92.2},{"panel":"nP4","dose":"0.1 Gy","day":124,"rate":90.3},{"panel":"nP4","dose":"0.1 Gy","day":133,"rate":88.3},{"panel":"nP4","dose":"0.1 Gy","day":141,"rate":85.4},{"panel":"nP4","dose":"0.1 Gy","day":154,"rate":83.5},{"panel":"nP4","dose":"0.1 Gy","day":162,"rate":80.6},{"panel":"nP4","dose":"0.1 Gy","day":171,"rate":76.7},{"panel":"nP4","dose":"0.1 Gy","day":179,"rate":72.8},{"panel":"nP4","dose":"0.1 Gy","day":192,"rate":68.9},{"panel":"nP4","dose":"0.1 Gy","day":208,"rate":65},{"panel":"nP4","dose":"0.1 Gy","day":229,"rate":64.1},{"panel":"nP4","dose":"0.1 Gy","day":246,"rate":61.2},{"panel":"nP4","dose":"0.1 Gy","day":255,"rate":58.3},{"panel":"nP4","dose":"0.1 Gy","day":267,"rate":56.3},{"panel":"nP4","dose":"0.1 Gy","day":276,"rate":53.4},{"panel":"nP4","dose":"0.1 Gy","day":330,"rate":51.5},{"panel":"nP4","dose":"0.1 Gy","day":343,"rate":49.1},{"panel":"nP4","dose":"0.1 Gy","day":500,"rate":49.1},
{"panel":"nP4","dose":"0.05 Gy","day":0,"rate":100},{"panel":"nP4","dose":"0.05 Gy","day":103,"rate":97},{"panel":"nP4","dose":"0.05 Gy","day":116,"rate":92.2},{"panel":"nP4","dose":"0.05 Gy","day":133,"rate":86.4},{"panel":"nP4","dose":"0.05 Gy","day":141,"rate":82.5},{"panel":"nP4","dose":"0.05 Gy","day":150,"rate":75.7},{"panel":"nP4","dose":"0.05 Gy","day":158,"rate":69.9},{"panel":"nP4","dose":"0.05 Gy","day":171,"rate":67},{"panel":"nP4","dose":"0.05 Gy","day":179,"rate":62.1},{"panel":"nP4","dose":"0.05 Gy","day":208,"rate":56.3},{"panel":"nP4","dose":"0.05 Gy","day":221,"rate":54.4},{"panel":"nP4","dose":"0.05 Gy","day":229,"rate":51.5},{"panel":"nP4","dose":"0.05 Gy","day":326,"rate":48.5},{"panel":"nP4","dose":"0.05 Gy","day":500,"rate":48.5},
{"panel":"nP4","dose":"Non-irradiated","day":0,"rate":100},{"panel":"nP4","dose":"Non-irradiated","day":95,"rate":98},{"panel":"nP4","dose":"Non-irradiated","day":103,"rate":94.2},{"panel":"nP4","dose":"Non-irradiated","day":112,"rate":92.2},{"panel":"nP4","dose":"Non-irradiated","day":120,"rate":90.3},{"panel":"nP4","dose":"Non-irradiated","day":129,"rate":88.3},{"panel":"nP4","dose":"Non-irradiated","day":137,"rate":86.4},{"panel":"nP4","dose":"Non-irradiated","day":150,"rate":84.5},{"panel":"nP4","dose":"Non-irradiated","day":158,"rate":82.5},{"panel":"nP4","dose":"Non-irradiated","day":166,"rate":79.6},{"panel":"nP4","dose":"Non-irradiated","day":175,"rate":75.7},{"panel":"nP4","dose":"Non-irradiated","day":187,"rate":72.8},{"panel":"nP4","dose":"Non-irradiated","day":196,"rate":68.9},{"panel":"nP4","dose":"Non-irradiated","day":204,"rate":63.1},{"panel":"nP4","dose":"Non-irradiated","day":213,"rate":57.3},{"panel":"nP4","dose":"Non-irradiated","day":221,"rate":55.3},{"panel":"nP4","dose":"Non-irradiated","day":234,"rate":53.8},{"panel":"nP4","dose":"Non-irradiated","day":246,"rate":52.4},{"panel":"nP4","dose":"Non-irradiated","day":263,"rate":50.5},{"panel":"nP4","dose":"Non-irradiated","day":271,"rate":48.5},{"panel":"nP4","dose":"Non-irradiated","day":322,"rate":46.6},{"panel":"nP4","dose":"Non-irradiated","day":500,"rate":46.6},

{"panel":"nP10","dose":"0.5 Gy","day":0,"rate":100},{"panel":"nP10","dose":"0.5 Gy","day":98,"rate":98.5},{"panel":"nP10","dose":"0.5 Gy","day":107,"rate":96.7},{"panel":"nP10","dose":"0.5 Gy","day":115,"rate":92.8},{"panel":"nP10","dose":"0.5 Gy","day":123,"rate":89.9},{"panel":"nP10","dose":"0.5 Gy","day":135,"rate":88},{"panel":"nP10","dose":"0.5 Gy","day":143,"rate":86},{"panel":"nP10","dose":"0.5 Gy","day":156,"rate":84.1},{"panel":"nP10","dose":"0.5 Gy","day":168,"rate":80.2},{"panel":"nP10","dose":"0.5 Gy","day":189,"rate":79.2},{"panel":"nP10","dose":"0.5 Gy","day":205,"rate":76.7},{"panel":"nP10","dose":"0.5 Gy","day":275,"rate":75.3},{"panel":"nP10","dose":"0.5 Gy","day":500,"rate":75.3},
{"panel":"nP10","dose":"0.1 Gy","day":0,"rate":100},{"panel":"nP10","dose":"0.1 Gy","day":102,"rate":96.7},{"panel":"nP10","dose":"0.1 Gy","day":115,"rate":94.7},{"panel":"nP10","dose":"0.1 Gy","day":127,"rate":91.8},{"panel":"nP10","dose":"0.1 Gy","day":135,"rate":89.9},{"panel":"nP10","dose":"0.1 Gy","day":148,"rate":88},{"panel":"nP10","dose":"0.1 Gy","day":160,"rate":86},{"panel":"nP10","dose":"0.1 Gy","day":176,"rate":83.1},{"panel":"nP10","dose":"0.1 Gy","day":184,"rate":80.2},{"panel":"nP10","dose":"0.1 Gy","day":197,"rate":78.2},{"panel":"nP10","dose":"0.1 Gy","day":205,"rate":75.3},{"panel":"nP10","dose":"0.1 Gy","day":225,"rate":74.3},{"panel":"nP10","dose":"0.1 Gy","day":238,"rate":72.4},{"panel":"nP10","dose":"0.1 Gy","day":250,"rate":70.4},{"panel":"nP10","dose":"0.1 Gy","day":262,"rate":65.6},{"panel":"nP10","dose":"0.1 Gy","day":270,"rate":61.7},{"panel":"nP10","dose":"0.1 Gy","day":398,"rate":59.8},{"panel":"nP10","dose":"0.1 Gy","day":430,"rate":58.4},{"panel":"nP10","dose":"0.1 Gy","day":500,"rate":58.4},
{"panel":"nP10","dose":"Non-irradiated","day":0,"rate":100},{"panel":"nP10","dose":"Non-irradiated","day":94,"rate":96.7},{"panel":"nP10","dose":"Non-irradiated","day":102,"rate":92.8},{"panel":"nP10","dose":"Non-irradiated","day":115,"rate":91.8},{"panel":"nP10","dose":"Non-irradiated","day":127,"rate":89.9},{"panel":"nP10","dose":"Non-irradiated","day":135,"rate":87},{"panel":"nP10","dose":"Non-irradiated","day":143,"rate":85},{"panel":"nP10","dose":"Non-irradiated","day":152,"rate":83.1},{"panel":"nP10","dose":"Non-irradiated","day":160,"rate":80.2},{"panel":"nP10","dose":"Non-irradiated","day":164,"rate":76.3},{"panel":"nP10","dose":"Non-irradiated","day":172,"rate":74.3},{"panel":"nP10","dose":"Non-irradiated","day":180,"rate":72.4},{"panel":"nP10","dose":"Non-irradiated","day":189,"rate":69.5},{"panel":"nP10","dose":"Non-irradiated","day":197,"rate":65.6},{"panel":"nP10","dose":"Non-irradiated","day":205,"rate":60.7},{"panel":"nP10","dose":"Non-irradiated","day":213,"rate":57.8},{"panel":"nP10","dose":"Non-irradiated","day":225,"rate":55.8},{"panel":"nP10","dose":"Non-irradiated","day":234,"rate":53.9},{"panel":"nP10","dose":"Non-irradiated","day":246,"rate":52},{"panel":"nP10","dose":"Non-irradiated","day":262,"rate":51},{"panel":"nP10","dose":"Non-irradiated","day":270,"rate":48.1},{"panel":"nP10","dose":"Non-irradiated","day":324,"rate":46.1},{"panel":"nP10","dose":"Non-irradiated","day":500,"rate":46.1}
],
"censor": [
{"panel":"gE14","dose":"0.5 Gy","day":48,"rate":100},{"panel":"gE14","dose":"0.5 Gy","day":420,"rate":47},{"panel":"gE14","dose":"0.5 Gy","day":470,"rate":47},{"panel":"gE14","dose":"0.5 Gy","day":500,"rate":47},{"panel":"gE14","dose":"0.1 Gy","day":430,"rate":57.7},{"panel":"gE14","dose":"0.1 Gy","day":500,"rate":57.7},{"panel":"gE14","dose":"Non-irradiated","day":500,"rate":45.8},
{"panel":"gE17","dose":"0.1 Gy","day":282,"rate":59.5},{"panel":"gE17","dose":"0.1 Gy","day":355,"rate":55.2},{"panel":"gE17","dose":"0.1 Gy","day":427,"rate":55.2},{"panel":"gE17","dose":"0.1 Gy","day":486,"rate":55.2},{"panel":"gE17","dose":"0.1 Gy","day":500,"rate":55.2},{"panel":"gE17","dose":"0.5 Gy","day":430,"rate":30.2},{"panel":"gE17","dose":"0.5 Gy","day":462,"rate":30.2},{"panel":"gE17","dose":"0.5 Gy","day":500,"rate":30.2},{"panel":"gE17","dose":"Non-irradiated","day":500,"rate":45.8},
{"panel":"gP1","dose":"0.05 Gy","day":500,"rate":60.5},{"panel":"gP1","dose":"0.1 Gy","day":400,"rate":47.9},{"panel":"gP1","dose":"0.1 Gy","day":473,"rate":47.9},{"panel":"gP1","dose":"0.1 Gy","day":500,"rate":47.9},{"panel":"gP1","dose":"0.2 Gy","day":500,"rate":41.6},{"panel":"gP1","dose":"0.5 Gy","day":356,"rate":35.2},{"panel":"gP1","dose":"0.5 Gy","day":390,"rate":30.8},{"panel":"gP1","dose":"0.5 Gy","day":500,"rate":30.8},{"panel":"gP1","dose":"Non-irradiated","day":500,"rate":45.9},
{"panel":"gP4","dose":"0.5 Gy","day":332,"rate":58.8},{"panel":"gP4","dose":"0.5 Gy","day":388,"rate":58.8},{"panel":"gP4","dose":"0.5 Gy","day":468,"rate":58.8},{"panel":"gP4","dose":"0.5 Gy","day":476,"rate":58.8},{"panel":"gP4","dose":"0.5 Gy","day":500,"rate":58.8},{"panel":"gP4","dose":"0.1 Gy","day":500,"rate":51.6},{"panel":"gP4","dose":"Non-irradiated","day":500,"rate":46.1},
{"panel":"gP10","dose":"0.5 Gy","day":52,"rate":100},{"panel":"gP10","dose":"0.5 Gy","day":240,"rate":73.9},{"panel":"gP10","dose":"0.5 Gy","day":428,"rate":62.7},{"panel":"gP10","dose":"0.5 Gy","day":500,"rate":62.7},{"panel":"gP10","dose":"Non-irradiated","day":500,"rate":45.9},
{"panel":"nE14","dose":"0.1 Gy","day":457,"rate":17.3},{"panel":"nE14","dose":"0.1 Gy","day":500,"rate":17.3},{"panel":"nE14","dose":"0.5 Gy","day":34,"rate":100},{"panel":"nE14","dose":"0.5 Gy","day":427,"rate":4.8},{"panel":"nE14","dose":"0.5 Gy","day":500,"rate":4.8},{"panel":"nE14","dose":"Non-irradiated","day":500,"rate":46.2},
{"panel":"nE17","dose":"0.1 Gy","day":500,"rate":2.9},{"panel":"nE17","dose":"0.5 Gy","day":500,"rate":1.9},{"panel":"nE17","dose":"Non-irradiated","day":500,"rate":46},
{"panel":"nP1","dose":"0.025 Gy","day":42,"rate":100},{"panel":"nP1","dose":"0.025 Gy","day":323,"rate":39.3},{"panel":"nP1","dose":"0.025 Gy","day":375,"rate":39.3},{"panel":"nP1","dose":"0.025 Gy","day":500,"rate":39.3},{"panel":"nP1","dose":"0.05 Gy","day":488,"rate":16.8},{"panel":"nP1","dose":"0.05 Gy","day":500,"rate":16.8},{"panel":"nP1","dose":"0.1 Gy","day":412,"rate":21.6},{"panel":"nP1","dose":"0.1 Gy","day":500,"rate":21.6},{"panel":"nP1","dose":"Non-irradiated","day":500,"rate":46.2},
{"panel":"nP4","dose":"0.05 Gy","day":482,"rate":48.5},{"panel":"nP4","dose":"0.05 Gy","day":500,"rate":48.5},{"panel":"nP4","dose":"0.1 Gy","day":427,"rate":49.1},{"panel":"nP4","dose":"0.1 Gy","day":500,"rate":49.1},{"panel":"nP4","dose":"0.5 Gy","day":334,"rate":26.2},{"panel":"nP4","dose":"0.5 Gy","day":385,"rate":26.2},{"panel":"nP4","dose":"0.5 Gy","day":461,"rate":26.2},{"panel":"nP4","dose":"0.5 Gy","day":473,"rate":26.2},{"panel":"nP4","dose":"0.5 Gy","day":500,"rate":26.2},{"panel":"nP4","dose":"Non-irradiated","day":500,"rate":46.6},
{"panel":"nP10","dose":"0.5 Gy","day":291,"rate":75.3},{"panel":"nP10","dose":"0.5 Gy","day":303,"rate":75.3},{"panel":"nP10","dose":"0.5 Gy","day":320,"rate":75.3},{"panel":"nP10","dose":"0.5 Gy","day":332,"rate":75.3},{"panel":"nP10","dose":"0.5 Gy","day":348,"rate":75.3},{"panel":"nP10","dose":"0.5 Gy","day":373,"rate":75.3},{"panel":"nP10","dose":"0.5 Gy","day":389,"rate":75.3},{"panel":"nP10","dose":"0.5 Gy","day":410,"rate":75.3},{"panel":"nP10","dose":"0.5 Gy","day":430,"rate":75.3},{"panel":"nP10","dose":"0.5 Gy","day":463,"rate":75.3},{"panel":"nP10","dose":"0.5 Gy","day":484,"rate":75.3},{"panel":"nP10","dose":"0.5 Gy","day":500,"rate":75.3},{"panel":"nP10","dose":"0.1 Gy","day":340,"rate":61.7},{"panel":"nP10","dose":"0.1 Gy","day":393,"rate":61.7},{"panel":"nP10","dose":"0.1 Gy","day":439,"rate":58.4},{"panel":"nP10","dose":"0.1 Gy","day":455,"rate":58.4},{"panel":"nP10","dose":"0.1 Gy","day":480,"rate":58.4},{"panel":"nP10","dose":"0.1 Gy","day":500,"rate":58.4},{"panel":"nP10","dose":"Non-irradiated","day":500,"rate":46.1}
],
"stars": [
{"panel":"nE14","day":487,"rate":20.5,"label":"*"},{"panel":"nE14","day":490,"rate":6.5,"label":"*"},
{"panel":"nE17","day":294,"rate":8,"label":"*"},{"panel":"nE17","day":478,"rate":5,"label":"*"},
{"panel":"nP1","day":150,"rate":3.5,"label":"*"},{"panel":"nP1","day":485,"rate":24.6,"label":"*"},{"panel":"nP1","day":485,"rate":9.2,"label":"*"},
{"panel":"nP10","day":475,"rate":77.7,"label":"**"}
]
},
"columns": 5,
"spacing": {"row": 97, "column": 40},
"bounds": "flush",
"concat": [
{"width":193,"height":172,"title":{"text":"E14","offset":34},
 "encoding":{"x":{"field":"day","type":"quantitative","scale":{"domain":[0,500],"nice":false},"axis":{"values":[0,100,200,300,400,500],"title":null}},
  "y":{"field":"rate","type":"quantitative","scale":{"domain":[0,100],"nice":false},"axis":{"values":[0,20,40,60,80,100],"title":"γ-rays","titleFontSize":25,"titleFontWeight":"bold","titlePadding":58,"titleY":93}},
  "color":{"field":"dose","type":"nominal","scale":{"domain":["Non-irradiated","0.025 Gy","0.05 Gy","0.1 Gy","0.2 Gy","0.5 Gy"],"range":["#000000","#FF8A00","#E60000","#0000DC","#17A017","#FF00FF"]},"legend":{"legendX":930,"legendY":545}}},
 "layer":[
  {"data":{"name":"curves"},"transform":[{"filter":"datum.panel==='gE14'"}],"mark":{"type":"line","interpolate":"step-after","strokeWidth":2.3}},
  {"data":{"name":"censor"},"transform":[{"filter":"datum.panel==='gE14'"}],"mark":{"type":"tick","orient":"vertical","size":6,"thickness":1.6}}
 ]},
{"width":208,"height":172,"title":{"text":"E17","offset":39},
 "encoding":{"x":{"field":"day","type":"quantitative","scale":{"domain":[0,500],"nice":false},"axis":{"values":[0,100,200,300,400,500],"title":null}},
  "y":{"field":"rate","type":"quantitative","scale":{"domain":[0,100],"nice":false},"axis":{"values":[0,20,40,60,80,100],"labels":false,"title":null}},
  "color":{"field":"dose","type":"nominal","scale":{"domain":["Non-irradiated","0.025 Gy","0.05 Gy","0.1 Gy","0.2 Gy","0.5 Gy"],"range":["#000000","#FF8A00","#E60000","#0000DC","#17A017","#FF00FF"]},"legend":{"legendX":930,"legendY":545}}},
 "layer":[
  {"data":{"name":"curves"},"transform":[{"filter":"datum.panel==='gE17'"}],"mark":{"type":"line","interpolate":"step-after","strokeWidth":2.3}},
  {"data":{"name":"censor"},"transform":[{"filter":"datum.panel==='gE17'"}],"mark":{"type":"tick","orient":"vertical","size":6,"thickness":1.6}}
 ]},
{"width":207,"height":172,"title":{"text":"P1","offset":39},
 "encoding":{"x":{"field":"day","type":"quantitative","scale":{"domain":[0,500],"nice":false},"axis":{"values":[0,100,200,300,400,500],"title":null}},
  "y":{"field":"rate","type":"quantitative","scale":{"domain":[0,100],"nice":false},"axis":{"values":[0,20,40,60,80,100],"labels":false,"title":null}},
  "color":{"field":"dose","type":"nominal","scale":{"domain":["Non-irradiated","0.025 Gy","0.05 Gy","0.1 Gy","0.2 Gy","0.5 Gy"],"range":["#000000","#FF8A00","#E60000","#0000DC","#17A017","#FF00FF"]},"legend":{"legendX":930,"legendY":545}}},
 "layer":[
  {"data":{"name":"curves"},"transform":[{"filter":"datum.panel==='gP1'"}],"mark":{"type":"line","interpolate":"step-after","strokeWidth":2.3}},
  {"data":{"name":"censor"},"transform":[{"filter":"datum.panel==='gP1'"}],"mark":{"type":"tick","orient":"vertical","size":6,"thickness":1.6}}
 ]},
{"width":203,"height":172,"title":{"text":"P4","offset":39},
 "encoding":{"x":{"field":"day","type":"quantitative","scale":{"domain":[0,500],"nice":false},"axis":{"values":[0,100,200,300,400,500],"title":null}},
  "y":{"field":"rate","type":"quantitative","scale":{"domain":[0,100],"nice":false},"axis":{"values":[0,20,40,60,80,100],"labels":false,"title":null}},
  "color":{"field":"dose","type":"nominal","scale":{"domain":["Non-irradiated","0.025 Gy","0.05 Gy","0.1 Gy","0.2 Gy","0.5 Gy"],"range":["#000000","#FF8A00","#E60000","#0000DC","#17A017","#FF00FF"]},"legend":{"legendX":930,"legendY":545}}},
 "layer":[
  {"data":{"name":"curves"},"transform":[{"filter":"datum.panel==='gP4'"}],"mark":{"type":"line","interpolate":"step-after","strokeWidth":2.3}},
  {"data":{"name":"censor"},"transform":[{"filter":"datum.panel==='gP4'"}],"mark":{"type":"tick","orient":"vertical","size":6,"thickness":1.6}}
 ]},
{"width":206,"height":172,"title":{"text":"P10","offset":39},
 "encoding":{"x":{"field":"day","type":"quantitative","scale":{"domain":[0,500],"nice":false},"axis":{"values":[0,100,200,300,400,500],"title":null}},
  "y":{"field":"rate","type":"quantitative","scale":{"domain":[0,100],"nice":false},"axis":{"values":[0,20,40,60,80,100],"labels":false,"title":null}},
  "color":{"field":"dose","type":"nominal","scale":{"domain":["Non-irradiated","0.025 Gy","0.05 Gy","0.1 Gy","0.2 Gy","0.5 Gy"],"range":["#000000","#FF8A00","#E60000","#0000DC","#17A017","#FF00FF"]},"legend":{"legendX":930,"legendY":545}}},
 "layer":[
  {"data":{"name":"curves"},"transform":[{"filter":"datum.panel==='gP10'"}],"mark":{"type":"line","interpolate":"step-after","strokeWidth":2.3}},
  {"data":{"name":"censor"},"transform":[{"filter":"datum.panel==='gP10'"}],"mark":{"type":"tick","orient":"vertical","size":6,"thickness":1.6}}
 ]},
{"width":193,"height":172,"title":{"text":"Neutrons","orient":"left","offset":25,"fontSize":25},
 "encoding":{"x":{"field":"day","type":"quantitative","scale":{"domain":[0,500],"nice":false},"axis":{"values":[0,100,200,300,400,500],"title":"Postnatal days"}},
  "y":{"field":"rate","type":"quantitative","scale":{"domain":[0,100],"nice":false},"axis":{"values":[0,20,40,60,80,100],"title":"Rate of MB free mice (%)","titleFontSize":21,"titlePadding":7,"titleY":-69.5}},
  "color":{"field":"dose","type":"nominal","scale":{"domain":["Non-irradiated","0.025 Gy","0.05 Gy","0.1 Gy","0.2 Gy","0.5 Gy"],"range":["#000000","#FF8A00","#E60000","#0000DC","#17A017","#FF00FF"]},"legend":{"legendX":930,"legendY":545}}},
 "layer":[
  {"data":{"name":"curves"},"transform":[{"filter":"datum.panel==='nE14'"}],"mark":{"type":"line","interpolate":"step-after","strokeWidth":2.3}},
  {"data":{"name":"censor"},"transform":[{"filter":"datum.panel==='nE14'"}],"mark":{"type":"tick","orient":"vertical","size":6,"thickness":1.6}},
  {"data":{"name":"stars"},"transform":[{"filter":"datum.panel==='nE14'"}],"mark":{"type":"text","fontSize":17,"baseline":"middle","align":"center"},"encoding":{"text":{"field":"label"},"color":{"value":"#000"}}}
 ]},
{"width":208,"height":172,
 "encoding":{"x":{"field":"day","type":"quantitative","scale":{"domain":[0,500],"nice":false},"axis":{"values":[0,100,200,300,400,500],"title":"Postnatal days"}},
  "y":{"field":"rate","type":"quantitative","scale":{"domain":[0,100],"nice":false},"axis":{"values":[0,20,40,60,80,100],"labels":false,"title":null}},
  "color":{"field":"dose","type":"nominal","scale":{"domain":["Non-irradiated","0.025 Gy","0.05 Gy","0.1 Gy","0.2 Gy","0.5 Gy"],"range":["#000000","#FF8A00","#E60000","#0000DC","#17A017","#FF00FF"]},"legend":{"legendX":930,"legendY":545}}},
 "layer":[
  {"data":{"name":"curves"},"transform":[{"filter":"datum.panel==='nE17'"}],"mark":{"type":"line","interpolate":"step-after","strokeWidth":2.3}},
  {"data":{"name":"censor"},"transform":[{"filter":"datum.panel==='nE17'"}],"mark":{"type":"tick","orient":"vertical","size":6,"thickness":1.6}},
  {"data":{"name":"stars"},"transform":[{"filter":"datum.panel==='nE17'"}],"mark":{"type":"text","fontSize":17,"baseline":"middle","align":"center"},"encoding":{"text":{"field":"label"},"color":{"value":"#000"}}}
 ]},
{"width":207,"height":172,
 "encoding":{"x":{"field":"day","type":"quantitative","scale":{"domain":[0,500],"nice":false},"axis":{"values":[0,100,200,300,400,500],"title":"Postnatal days"}},
  "y":{"field":"rate","type":"quantitative","scale":{"domain":[0,100],"nice":false},"axis":{"values":[0,20,40,60,80,100],"labels":false,"title":null}},
  "color":{"field":"dose","type":"nominal","scale":{"domain":["Non-irradiated","0.025 Gy","0.05 Gy","0.1 Gy","0.2 Gy","0.5 Gy"],"range":["#000000","#FF8A00","#E60000","#0000DC","#17A017","#FF00FF"]},"legend":{"legendX":930,"legendY":545}}},
 "layer":[
  {"data":{"name":"curves"},"transform":[{"filter":"datum.panel==='nP1'"}],"mark":{"type":"line","interpolate":"step-after","strokeWidth":2.3}},
  {"data":{"name":"censor"},"transform":[{"filter":"datum.panel==='nP1'"}],"mark":{"type":"tick","orient":"vertical","size":6,"thickness":1.6}},
  {"data":{"name":"stars"},"transform":[{"filter":"datum.panel==='nP1'"}],"mark":{"type":"text","fontSize":17,"baseline":"middle","align":"center"},"encoding":{"text":{"field":"label"},"color":{"value":"#000"}}}
 ]},
{"width":203,"height":172,
 "encoding":{"x":{"field":"day","type":"quantitative","scale":{"domain":[0,500],"nice":false},"axis":{"values":[0,100,200,300,400,500],"title":"Postnatal days"}},
  "y":{"field":"rate","type":"quantitative","scale":{"domain":[0,100],"nice":false},"axis":{"values":[0,20,40,60,80,100],"labels":false,"title":null}},
  "color":{"field":"dose","type":"nominal","scale":{"domain":["Non-irradiated","0.025 Gy","0.05 Gy","0.1 Gy","0.2 Gy","0.5 Gy"],"range":["#000000","#FF8A00","#E60000","#0000DC","#17A017","#FF00FF"]},"legend":{"legendX":930,"legendY":545}}},
 "layer":[
  {"data":{"name":"curves"},"transform":[{"filter":"datum.panel==='nP4'"}],"mark":{"type":"line","interpolate":"step-after","strokeWidth":2.3}},
  {"data":{"name":"censor"},"transform":[{"filter":"datum.panel==='nP4'"}],"mark":{"type":"tick","orient":"vertical","size":6,"thickness":1.6}}
 ]},
{"width":206,"height":172,
 "encoding":{"x":{"field":"day","type":"quantitative","scale":{"domain":[0,500],"nice":false},"axis":{"values":[0,100,200,300,400,500],"title":"Postnatal days"}},
  "y":{"field":"rate","type":"quantitative","scale":{"domain":[0,100],"nice":false},"axis":{"values":[0,20,40,60,80,100],"labels":false,"title":null}},
  "color":{"field":"dose","type":"nominal","scale":{"domain":["Non-irradiated","0.025 Gy","0.05 Gy","0.1 Gy","0.2 Gy","0.5 Gy"],"range":["#000000","#FF8A00","#E60000","#0000DC","#17A017","#FF00FF"]},"legend":{"legendX":930,"legendY":545}}},
 "layer":[
  {"data":{"name":"curves"},"transform":[{"filter":"datum.panel==='nP10'"}],"mark":{"type":"line","interpolate":"step-after","strokeWidth":2.3}},
  {"data":{"name":"censor"},"transform":[{"filter":"datum.panel==='nP10'"}],"mark":{"type":"tick","orient":"vertical","size":6,"thickness":1.6}},
  {"data":{"name":"stars"},"transform":[{"filter":"datum.panel==='nP10'"}],"mark":{"type":"text","fontSize":17,"baseline":"middle","align":"center"},"encoding":{"text":{"field":"label"},"color":{"value":"#000"}}}
 ]}
],
"config": {
 "font": "Liberation Sans",
 "view": {"stroke": null},
 "axis": {"grid": false, "domainColor": "#000", "domainWidth": 1.5, "tickColor": "#000", "tickWidth": 1.5, "tickSize": -6, "labelColor": "#000", "labelFontSize": 18, "labelFlush": false, "labelOverlap": false, "titleColor": "#000", "titleFontWeight": "normal", "titleFontSize": 21},
 "axisX": {"labelPadding": 17, "titlePadding": 34},
 "axisY": {"labelPadding": 21},
 "legend": {"orient": "none", "direction": "vertical", "title": null, "symbolType": "stroke", "symbolSize": 1369, "symbolStrokeWidth": 2.5, "labelFontSize": 21, "labelOffset": 6, "clipHeight": 25, "rowPadding": 0, "labelColor": "#000", "padding": 0},
 "title": {"fontSize": 21, "fontWeight": "bold", "color": "#000", "anchor": "middle", "frame": "group", "baseline": "alphabetic"}
}
}
